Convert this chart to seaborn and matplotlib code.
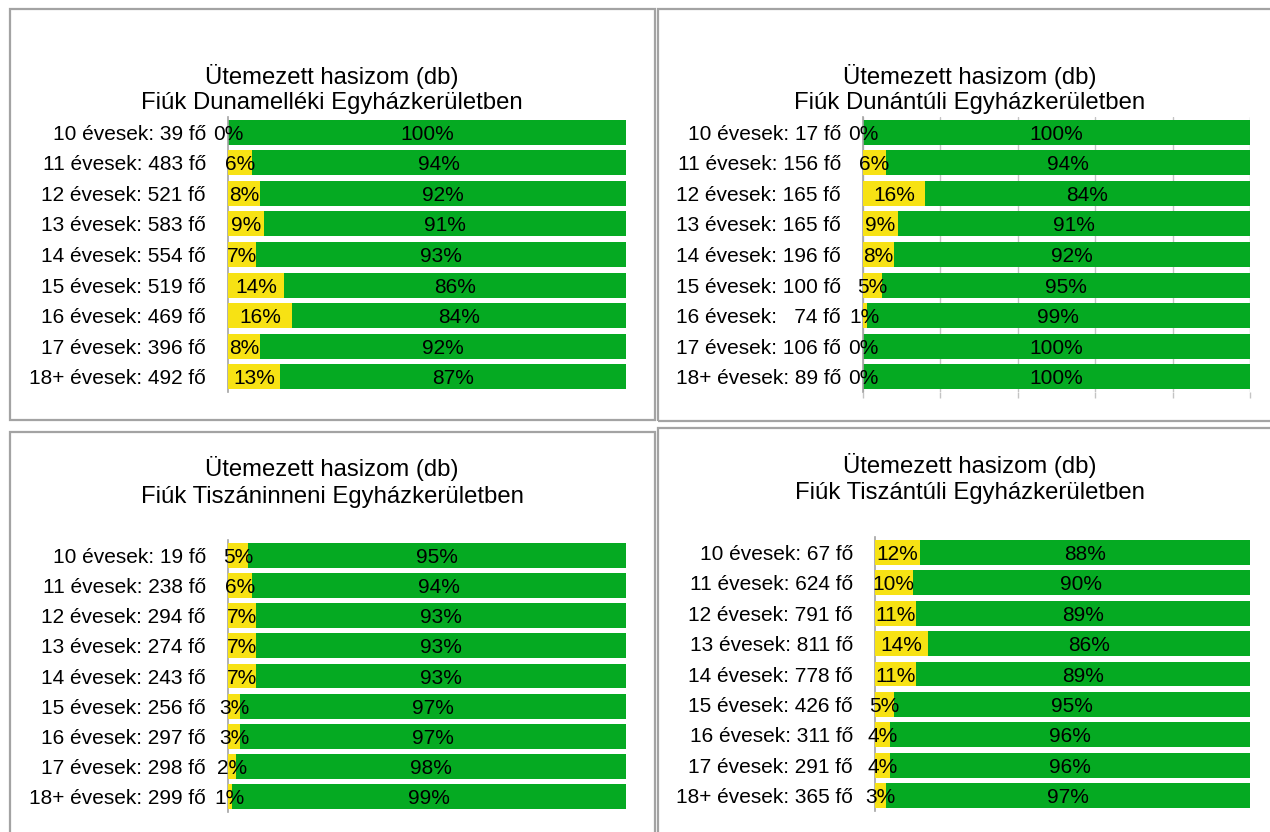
import matplotlib
matplotlib.use("Agg")
import matplotlib.pyplot as plt
from matplotlib.patches import Rectangle
import seaborn as sns
import pandas as pd

# ---------------- data ----------------
ages = ["10", "11", "12", "13", "14", "15", "16", "17", "18+"]

titles = [
    "Fiúk Dunamelléki Egyházkerületben",
    "Fiúk Dunántúli Egyházkerületben",
    "Fiúk Tiszáninneni Egyházkerületben",
    "Fiúk Tiszántúli Egyházkerületben",
]
title_top = "Ütemezett hasizom (db)"

counts_dm = ["39", "483", "521", "583", "554", "519", "469", "396", "492"]
yellow_dm = [0, 6, 8, 9, 7, 14, 16, 8, 13]
green_dm = [100, 94, 92, 91, 93, 86, 84, 92, 87]

counts_dt = ["17", "156", "165", "165", "196", "100", "  74", "106", "89"]
yellow_dt = [0, 6, 16, 9, 8, 5, 1, 0, 0]
green_dt = [100, 94, 84, 91, 92, 95, 99, 100, 100]

counts_tn = ["19", "238", "294", "274", "243", "256", "297", "298", "299"]
yellow_tn = [5, 6, 7, 7, 7, 3, 3, 2, 1]
green_tn = [95, 94, 93, 93, 93, 97, 97, 98, 99]

counts_tt = ["67", "624", "791", "811", "778", "426", "311", "291", "365"]
yellow_tt = [12, 10, 11, 14, 11, 5, 4, 4, 3]
green_tt = [88, 90, 89, 86, 89, 95, 96, 96, 97]

# ---------------- style ----------------
sns.set_theme(style="white")
plt.rcParams["font.family"] = ["Liberation Sans", "DejaVu Sans"]
plt.rcParams["text.color"] = "black"

W, H = 1270, 832
fig = plt.figure(figsize=(W / 100, H / 100), dpi=100)

GREEN = "#05AA22"
YELLOW = "#F7E214"
BORDER = "#A3A3A3"
FS = 15
TFS = 17.2

# axes rectangles in pixel coords: (left, top, right, bottom)
axes_px = [
    (228, 117, 626, 392),
    (863, 117, 1250, 392),
    (228, 540, 626, 812),
    (875, 537, 1250, 811),
]
title_px = [
    (332, 74, 101),
    (970, 74, 101),
    (332, 466, 494),
    (970, 463, 491),
]
borders_px = [
    (10, 9, 655, 420),
    (658, 9, 1280, 421),
    (10, 432, 655, 845),
    (658, 428, 1280, 845),
]

panels = [
    (counts_dm, yellow_dm, green_dm, False),
    (counts_dt, yellow_dt, green_dt, True),
    (counts_tn, yellow_tn, green_tn, False),
    (counts_tt, yellow_tt, green_tt, False),
]

for (l, t, r, b), (tx, ty1, ty2), (bl, bt, br, bb), (cnts, yel, grn, grid), title in zip(
        axes_px, title_px, borders_px, panels, titles):
    # panel frame
    fig.add_artist(Rectangle((bl / W, 1 - bb / H), (br - bl) / W, (bb - bt) / H,
                             transform=fig.transFigure, fill=False,
                             edgecolor=BORDER, lw=1.6))
    ax = fig.add_axes([l / W, 1 - b / H, (r - l) / W, (b - t) / H])
    labels = [f"{a} évesek: {c} fő" for a, c in zip(ages, cnts)]
    df = pd.DataFrame({"label": labels, "yellow": yel, "green": grn})
    df["total"] = df["yellow"] + df["green"]

    sns.barplot(data=df, x="total", y="label", color=GREEN, saturation=1,
                width=0.82, linewidth=0, ax=ax, zorder=2)
    sns.barplot(data=df, x="yellow", y="label", color=YELLOW, saturation=1,
                width=0.82, linewidth=0, ax=ax, zorder=3)

    for i, (yv, gv) in enumerate(zip(yel, grn)):
        ax.text(yv / 2, i, f"{yv}%", ha="center", va="center_baseline", fontsize=FS,
                color="black", zorder=5)
        ax.text(yv + gv / 2, i, f"{gv}%", ha="center", va="center_baseline", fontsize=FS,
                color="black", zorder=5)

    ax.set_xlim(0, 100)
    ax.set_ylim(8.5, -0.5)
    ax.set_xlabel("")
    ax.set_ylabel("")
    for s in ["top", "right", "bottom"]:
        ax.spines[s].set_visible(False)
    ax.spines["left"].set_color(BORDER)
    ax.spines["left"].set_linewidth(1.2)
    ax.tick_params(axis="y", length=0, pad=16, labelsize=FS, labelcolor="black")
    for lab in ax.get_yticklabels():
        lab.set_verticalalignment("center_baseline")
    if grid:
        ax.set_xticks([0, 20, 40, 60, 80, 100])
        ax.set_axisbelow(True)
        ax.grid(axis="x", color="#C4C4C4", lw=1, zorder=0)
        ax.tick_params(axis="x", length=4, color="#C4C4C4", labelbottom=False,
                       bottom=True, width=1)
    else:
        ax.set_xticks([])
    ax.patch.set_alpha(0)

    fig.text(tx / W, 1 - ty1 / H, title_top, ha="center", va="center_baseline",
             fontsize=TFS, color="black")
    fig.text(tx / W, 1 - ty2 / H, title, ha="center", va="center_baseline",
             fontsize=TFS, color="black")

fig.savefig("out.png", dpi=100)
